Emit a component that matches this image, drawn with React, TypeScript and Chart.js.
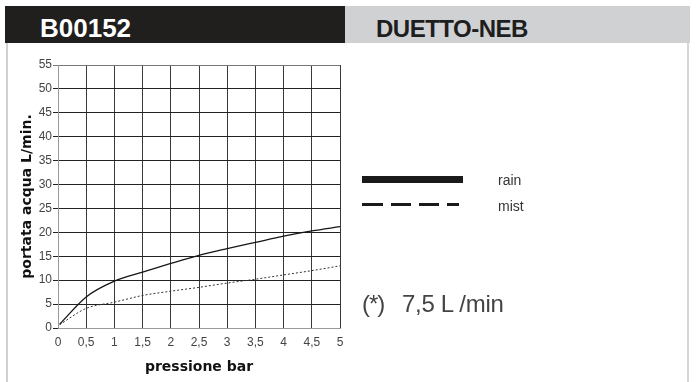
import React, { useEffect, useRef } from "react";
import { Chart, registerables } from "chart.js";

Chart.register(...registerables);

const pressure = [0.03, 0.5, 1, 1.5, 2, 2.5, 3, 3.5, 4, 4.5, 5];
const rain = [0.8, 6.5, 9.8, 11.7, 13.5, 15.2, 16.6, 17.9, 19.2, 20.3, 21.2];
const mist = [0.7, 4.1, 5.4, 6.8, 7.7, 8.5, 9.4, 10.2, 11.1, 12.0, 13.0];
const yTitle = "portata acqua L/min.";
const xTitle = "pressione bar";
const codeLabel = "B00152";
const nameLabel = "DUETTO-NEB";
const seriesNames = ["rain", "mist"];
const noteLabel = "(*)";
const noteValue = "7,5 L /min";

export default function App() {
  const ref = useRef<HTMLCanvasElement | null>(null);

  useEffect(() => {
    if (!ref.current) return;
    const chart = new Chart(ref.current, {
      type: "line",
      data: {
        datasets: [
          {
            label: seriesNames[0],
            data: pressure.map((p, i) => ({ x: p, y: rain[i] })),
            borderColor: "#161616",
            borderWidth: 1.3,
            pointRadius: 0,
            cubicInterpolationMode: "monotone",
            fill: false,
          },
          {
            label: seriesNames[1],
            data: pressure.map((p, i) => ({ x: p, y: mist[i] })),
            borderColor: "#333333",
            borderWidth: 1,
            borderDash: [2, 2],
            pointRadius: 0,
            cubicInterpolationMode: "monotone",
            fill: false,
          },
        ],
      },
      options: {
        animation: false,
        responsive: false,
        maintainAspectRatio: false,
        layout: { padding: { left: 7, top: 65, right: 356, bottom: 4 } },
        plugins: { legend: { display: false }, tooltip: { enabled: false } },
        scales: {
          x: {
            type: "linear",
            min: 0,
            max: 5,
            afterFit: (s: any) => {
              s.height = 50;
            },
            ticks: {
              stepSize: 0.5,
              padding: 7,
              color: "#444",
              font: { family: "Liberation Sans", size: 12 },
              maxRotation: 0,
              autoSkip: false,
              callback: (v: any) => String(v).replace(".", ","),
            },
            grid: {
              drawTicks: false,
              color: "#3a3a3a",
              lineWidth: 1,
            },
            border: { color: "#999", width: 1 },
            title: {
              display: true,
              text: xTitle,
              color: "#111",
              font: { family: "DejaVu Sans", size: 14, weight: "bold" },
              padding: { top: 0, bottom: 2 },
            },
          },
          y: {
            min: 0,
            max: 55,
            afterFit: (s: any) => {
              s.width = 51;
            },
            ticks: {
              stepSize: 5,
              padding: 1,
              color: "#444",
              font: { family: "Liberation Sans", size: 12 },
            },
            grid: {
              tickLength: 5,
              color: (ctx: any) =>
                ctx.tick && ctx.tick.value === 55 ? "#777" : "#222",
              lineWidth: 1,
            },
            border: { color: "#999", width: 1 },
            title: {
              display: true,
              text: yTitle,
              color: "#111",
              font: { family: "DejaVu Sans", size: 14, weight: "bold" },
              padding: { top: 12, bottom: 0 },
            },
          },
        },
      },
    });
    return () => chart.destroy();
  }, []);

  const txt = { fontFamily: "Liberation Sans, Arial, sans-serif", color: "#333" };

  return (
    <div
      style={{
        position: "fixed",
        left: 0,
        top: 0,
        width: 696,
        height: 382,
        background: "#fff",
        overflow: "hidden",
      }}
    >
      <div style={{ position: "absolute", left: 6, top: 43, width: 2, height: 339, background: "#d0d0d0" }} />
      <div style={{ position: "absolute", left: 687, top: 43, width: 2, height: 339, background: "#d6d6d6" }} />
      <div
        style={{
          position: "absolute",
          left: 5,
          top: 6,
          width: 340,
          height: 37,
          background: "#201f1d",
        }}
      >
        <div
          style={{
            position: "absolute",
            left: 35,
            top: 3,
            lineHeight: "39px",
            fontFamily: "Liberation Sans, Arial, sans-serif",
            fontWeight: "bold",
            fontSize: 26,
            color: "#fff",
          }}
        >
          {codeLabel}
        </div>
      </div>
      <div
        style={{
          position: "absolute",
          left: 345,
          top: 6,
          width: 345,
          height: 37,
          background: "#d0d1d3",
        }}
      >
        <div
          style={{
            position: "absolute",
            left: 31,
            top: 3,
            lineHeight: "39px",
            fontFamily: "Liberation Sans, Arial, sans-serif",
            fontWeight: "bold",
            fontSize: 24,
            letterSpacing: "-0.5px",
            color: "#1e1e1e",
          }}
        >
          {nameLabel}
        </div>
      </div>
      <canvas
        ref={ref}
        width={696}
        height={382}
        style={{ position: "absolute", left: 0, top: 0, width: 696, height: 382 }}
      />
      <div style={{ position: "absolute", left: 362, top: 176, width: 101, height: 7, background: "#1a1a1a" }} />
      <div style={{ position: "absolute", left: 362, top: 203, width: 21, height: 3, background: "#1a1a1a" }} />
      <div style={{ position: "absolute", left: 391, top: 203, width: 20, height: 3, background: "#1a1a1a" }} />
      <div style={{ position: "absolute", left: 419, top: 203, width: 20, height: 3, background: "#1a1a1a" }} />
      <div style={{ position: "absolute", left: 447, top: 203, width: 12, height: 3, background: "#1a1a1a" }} />
      <div style={{ ...txt, position: "absolute", left: 498, top: 172, fontSize: 14, lineHeight: "16px" }}>
        {seriesNames[0]}
      </div>
      <div style={{ ...txt, position: "absolute", left: 498, top: 198, fontSize: 14, lineHeight: "16px" }}>
        {seriesNames[1]}
      </div>
      <div style={{ ...txt, color: "#444", position: "absolute", left: 362, top: 290, fontSize: 24, lineHeight: "28px", letterSpacing: "-1px" }}>
        {noteLabel}
      </div>
      <div style={{ ...txt, color: "#444", position: "absolute", left: 402, top: 290, fontSize: 24, lineHeight: "28px", letterSpacing: "-0.3px" }}>
        {noteValue}
      </div>
    </div>
  );
}
